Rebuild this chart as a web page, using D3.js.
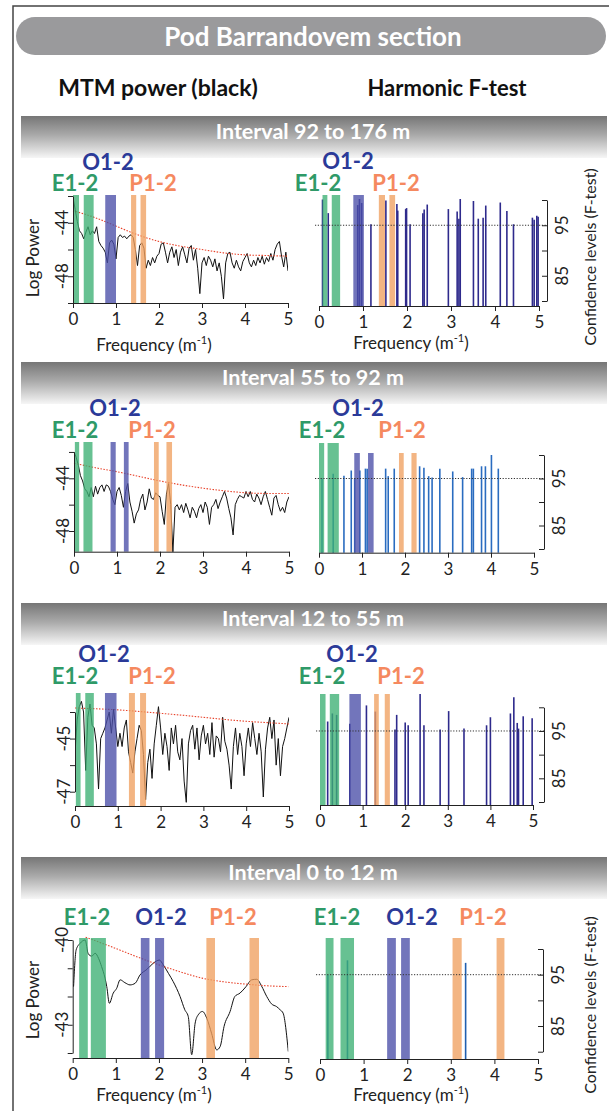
<!DOCTYPE html>
<html>
<head>
<meta charset="utf-8">
<script src="https://cdn.jsdelivr.net/npm/d3@7"></script>
<style>
  body { margin: 0; background: #fff; }
  svg { display: block; font-family: Lato, "Open Sans", sans-serif; }
  .axis path, .axis line { stroke: #222; stroke-width: 1; }
  .axis text { font-size: 17px; fill: #222; font-family: Lato, sans-serif; }
</style>
</head>
<body>
<div id="chart"></div>
<script>
// ---- data ----
const FREQ_STEP = 0.05; // MTM spectra sampled every 0.05 cycles/m (0..5)

const intervalTitles = ["Interval 92 to 176 m", "Interval 55 to 92 m", "Interval 12 to 55 m", "Interval 0 to 12 m"];

// MTM log power, interval 92-176 m
const mtm92 = [
  -42.1,-43.0,-43.9,-44.6,-44.8,-45.2,-44.7,-44.3,-44.9,-44.6,
  -44.8,-44.3,-45.4,-45.7,-45.9,-46.2,-47.0,-45.5,-45.3,-45.6,
  -46.7,-45.1,-44.9,-45.1,-45.0,-45.2,-45.0,-44.9,-45.1,-46.0,
  -47.2,-45.7,-45.5,-45.9,-47.4,-46.8,-47.2,-46.6,-47.0,-46.5,
  -46.3,-45.6,-45.5,-46.2,-47.0,-46.2,-45.8,-46.6,-46.0,-47.2,
  -46.2,-45.8,-46.4,-47.0,-45.9,-45.7,-46.8,-46.0,-47.4,-49.3,
  -47.0,-46.6,-47.2,-46.5,-46.8,-47.3,-46.7,-47.6,-47.0,-48.0,
  -49.7,-47.0,-46.3,-46.2,-47.0,-47.4,-46.8,-47.3,-47.6,-46.9,
  -46.6,-46.3,-47.0,-47.3,-46.8,-47.2,-46.6,-47.0,-46.5,-47.1,
  -46.6,-46.9,-46.3,-46.8,-46.0,-45.6,-45.4,-46.5,-47.3,-46.2,
  -47.6
];
// MTM log power, interval 55-92 m
const mtm55 = [
  -42.0,-42.4,-43.0,-43.8,-44.2,-44.8,-45.0,-45.4,-44.7,-45.4,
  -44.6,-45.2,-44.7,-44.5,-45.0,-44.5,-44.6,-45.0,-45.6,-46.0,
  -45.0,-44.7,-45.3,-46.2,-45.0,-44.4,-45.8,-46.5,-47.4,-46.7,
  -46.4,-45.6,-45.2,-46.4,-45.8,-44.8,-45.5,-45.6,-45.1,-45.3,
  -45.4,-46.5,-47.5,-45.2,-44.4,-46.0,-49.6,-46.2,-46.0,-46.4,
  -46.0,-46.6,-45.9,-46.4,-47.0,-46.2,-46.5,-47.0,-46.3,-46.0,
  -46.6,-45.8,-46.2,-47.5,-46.2,-46.0,-45.6,-46.3,-45.8,-45.4,
  -45.0,-45.5,-46.3,-47.0,-48.3,-46.0,-45.6,-45.3,-45.4,-45.5,
  -45.0,-45.4,-45.0,-45.6,-45.8,-45.2,-45.5,-46.0,-45.4,-45.0,
  -45.6,-46.2,-46.8,-45.5,-45.3,-46.0,-46.5,-46.2,-46.6,-45.8,
  -45.4
];
// MTM log power, interval 12-55 m
const mtm12 = [
  -45.6,-44.3,-43.8,-43.6,-44.0,-46.2,-44.2,-43.7,-44.5,-44.6,
  -45.2,-46.9,-45.0,-44.8,-44.6,-44.3,-44.0,-44.8,-43.9,-44.6,
  -45.3,-44.8,-45.3,-44.6,-44.3,-45.5,-45.9,-46.3,-45.5,-45.0,
  -44.5,-44.7,-45.6,-47.3,-45.9,-45.4,-46.5,-45.2,-44.5,-43.8,
  -44.6,-45.6,-44.8,-45.3,-46.2,-44.6,-45.2,-44.5,-45.5,-45.8,
  -45.0,-46.6,-47.4,-45.2,-44.7,-44.5,-45.4,-44.6,-45.8,-44.9,
  -44.5,-45.2,-44.8,-45.6,-44.4,-45.7,-44.9,-45.0,-45.5,-44.2,
  -45.1,-45.4,-46.0,-46.9,-45.3,-44.6,-45.6,-44.8,-45.3,-46.4,
  -45.2,-44.6,-45.3,-44.4,-45.0,-45.6,-44.8,-45.5,-47.2,-45.4,
  -44.6,-44.2,-45.0,-44.3,-46.0,-45.0,-46.4,-45.3,-45.0,-44.6,
  -44.2
];
// MTM log power, interval 0-12 m (smooth, irregular sampling)
const mtm0Freq = [0.02,0.08,0.17,0.29,0.36,0.44,0.52,0.60,0.67,0.75,0.79,0.85,0.94,1.02,1.10,1.21,1.33,1.45,1.56,1.72,
  1.87,2.01,2.10,2.22,2.33,2.49,2.60,2.68,2.76,2.84,2.91,3.01,3.11,3.22,3.34,3.42,3.51,3.65,3.76,3.88,
  4.02,4.15,4.27,4.38,4.50,4.61,4.73,4.81,4.88,5.00];
const mtm0 = [-41.65,-40.35,-40.12,-40.0,-40.49,-40.57,-40.47,-40.65,-40.94,-41.35,-41.65,-42.24,-41.88,-41.71,-41.41,-41.51,-41.59,-41.53,-41.24,-41.04,
  -40.82,-40.71,-40.88,-41.18,-41.47,-42.0,-42.47,-42.71,-44.06,-42.94,-42.65,-42.53,-42.77,-43.3,-43.89,-43.77,-43.06,-42.53,-42.0,-41.88,
  -41.65,-41.41,-41.39,-41.63,-42.0,-42.26,-42.36,-42.47,-42.59,-43.95];

// red-noise confidence curves (dotted red)
const redFreq = [0, 0.5, 1, 1.5, 2, 2.5, 3, 3.5, 4, 4.5, 5];
const red92 = [-43.1,-43.6,-44.25,-44.9,-45.4,-45.75,-46.0,-46.25,-46.4,-46.45,-46.5];
const red55 = [-42.85,-43.2,-43.5,-43.85,-44.2,-44.5,-44.75,-44.95,-45.1,-45.15,-45.15];
const red12 = [-43.85,-43.88,-43.92,-43.98,-44.05,-44.12,-44.2,-44.28,-44.35,-44.4,-44.45];
const red0Freq = [0.3, 1, 1.5, 2, 2.5, 3, 3.5, 4, 4.5, 5];
const red0 = [-39.9,-40.3,-40.6,-40.88,-41.13,-41.35,-41.48,-41.56,-41.62,-41.65];

// harmonic F-test peaks: frequency and confidence level (%)
const ft92Freq = [0.08,0.21,0.88,0.92,0.97,1.18,1.52,1.77,1.79,1.97,1.99,2.07,2.36,2.39,2.46,2.94,3.14,3.18,3.21,3.51,3.62,3.73,3.79,4.12,4.27,4.42,4.85,4.89,4.95,4.98];
const ft92Conf = [100.1,97.4,99.0,100.2,99.4,95.2,99.9,99.2,97.9,98.2,98.4,95.2,97.4,98.1,99.1,98.2,97.7,96.3,100.2,99.8,96.3,96.5,98.9,99.5,97.8,95.2,96.5,96.1,96.9,96.7];
const ft55Freq = [0.07,0.33,0.58,0.75,0.83,0.95,1.08,1.12,1.55,1.61,1.75,2.34,2.44,2.55,2.63,2.81,3.11,3.34,3.55,3.59,3.78,3.87,4.01,4.17];
const ft55Conf = [95.0,96.0,95.6,96.7,95.0,96.7,97.1,97.1,97.1,95.5,97.1,97.6,97.3,95.5,95.2,97.1,96.5,95.3,97.1,97.1,97.6,97.6,100.0,97.1];
const ft12Freq = [0.18,0.29,0.39,0.70,1.09,1.30,1.76,1.80,2.00,2.07,2.35,2.44,2.82,3.02,3.38,3.91,4.00,4.47,4.55,4.63,4.66,4.77,4.98];
const ft12Conf = [97.0,98.7,98.4,96.5,100.4,99.1,95.3,98.4,96.8,96.2,102.8,96.2,95.3,99.2,95.5,96.2,97.9,98.7,102.1,96.7,95.5,98.1,97.7];
const ft0Freq = [0.18, 0.63, 3.34];
const ft0Conf = [95.0, 97.8, 97.3];

// astronomical bands [start, end, group]: E1-2 eccentricity, O1-2 obliquity, P1-2 precession
const bands92L = [[0,0.14,"E"],[0.25,0.48,"E"],[0.75,1.0,"O"],[1.35,1.47,"P"],[1.57,1.7,"P"]];
const bands92R = [[0.08,0.19,"E"],[0.29,0.48,"E"],[0.78,1.02,"O"],[1.36,1.5,"P"],[1.6,1.73,"P"]];
const bands55L = [[0.02,0.12,"E"],[0.22,0.43,"E"],[0.85,0.97,"O"],[1.16,1.27,"O"],[1.86,1.97,"P"],[2.15,2.28,"P"]];
const bands55R = [[0,0.12,"E"],[0.2,0.46,"E"],[0.82,0.95,"O"],[1.14,1.27,"O"],[1.86,1.97,"P"],[2.15,2.27,"P"]];
const bands12L = [[0.02,0.13,"E"],[0.24,0.44,"E"],[0.7,0.97,"O"],[1.26,1.4,"P"],[1.52,1.66,"P"]];
const bands12R = [[0,0.13,"E"],[0.23,0.45,"E"],[0.69,0.96,"O"],[1.27,1.38,"P"],[1.52,1.64,"P"]];
const bands0L = [[0.15,0.35,"E"],[0.42,0.77,"E"],[1.58,1.78,"O"],[1.91,2.12,"O"],[3.1,3.3,"P"],[4.1,4.32,"P"]];
const bands0R = [[0.13,0.31,"E"],[0.47,0.78,"E"],[1.54,1.74,"O"],[1.86,2.06,"O"],[3.04,3.25,"P"],[4.05,4.23,"P"]];

const bandNames = { E: "E1-2", O: "O1-2", P: "P1-2" };
const bandFill = { E: "#3cb073", O: "#4a4ea8", P: "#f0a060" };
const bandText = { E: "#2f9a68", O: "#2b3a98", P: "#f5895f" };
const freqTicks = [0, 1, 2, 3, 4, 5];

// ---- layout of the four intervals ----
const panels = [
  { title: intervalTitles[0], hdrY: 116, mtm: mtm92, red: red92, redF: redFreq,
    ftF: ft92Freq, ftC: ft92Conf, ftColor: "#2e2a8c", bandsL: bands92L, bandsR: bands92R,
    L: { x: [73, 288], yDom: [-50, -42], yRng: [303, 196], axisDom: [-50, -42], ticks: [-42, -44, -46, -48, -50], labels: [-44, -48], xAxisY: 303, bandTop: 195,
         names: [["O", 108, 162], ["E", 75, 183], ["P", 153, 183]], freqLabel: 345, logLabel: 258 },
    R: { x: [319, 539], yRng: [301, 200], base: 306, axisX: 547, topE: 195, topOP: 195,
         names: [["O", 348, 161], ["E", 318, 183], ["P", 396, 183]], freqLabel: 343, confLabel: 257 } },
  { title: intervalTitles[1], hdrY: 362, mtm: mtm55, red: red55, redF: redFreq,
    ftF: ft55Freq, ftC: ft55Conf, ftColor: "#2a6cc0", bandsL: bands55L, bandsR: bands55R,
    L: { x: [74, 289], yDom: [-48, -44], yRng: [531, 478.3], axisDom: [-49.6, -42], ticks: [-42, -44, -46, -48], labels: [-44, -48], xAxisY: 551.7, bandTop: 442,
         names: [["O", 115, 408], ["E", 75, 430], ["P", 152, 430]] },
    R: { x: [319, 534], yRng: [549, 455], base: 552.7, axisX: 544, topE: 443, topOP: 453,
         names: [["O", 358, 408], ["E", 322, 430], ["P", 402, 430]] } },
  { title: intervalTitles[2], hdrY: 603, mtm: mtm12, red: red12, redF: redFreq,
    ftF: ft12Freq, ftC: ft12Conf, ftColor: "#2e2a8c", bandsL: bands12L, bandsR: bands12R,
    L: { x: [75, 289], yDom: [-47, -44], yRng: [791.7, 712], axisDom: [-47, -44], ticks: [-44, -45, -46, -47], labels: [-45, -47], xAxisY: 806, bandTop: 693,
         names: [["O", 104, 654], ["E", 75, 676], ["P", 152, 676]] },
    R: { x: [320, 533], yRng: [802, 707.3], base: 805, axisX: 544, topE: 694, topOP: 694,
         names: [["O", 352, 654], ["E", 322, 676], ["P", 401, 676]] } },
  { title: intervalTitles[3], hdrY: 857, mtm: mtm0, mtmF: mtm0Freq, red: red0, redF: red0Freq,
    ftF: ft0Freq, ftC: ft0Conf, ftColor: "#1f5fb0", bandsL: bands0L, bandsR: bands0R,
    L: { x: [72.7, 288.3], yDom: [-44, -40], yRng: [1053, 940], axisDom: [-44, -40], ticks: [-40, -41, -42, -43, -44], labels: [-40, -43], xAxisY: 1058, bandTop: 938,
         names: [["E", 87, 917], ["O", 161, 917], ["P", 233, 917]], freqLabel: 1095, logLabel: 1000 },
    R: { x: [320, 538], yRng: [1051.7, 949], base: 1059, axisX: 543, topE: 938, topOP: 938,
         names: [["E", 337, 917], ["O", 412, 917], ["P", 483, 917]], freqLabel: 1095, confLabel: 1005 } }
];

const W = 609, H = 1111;
const svg = d3.select("#chart").append("svg").attr("width", W).attr("height", H);

const defs = svg.append("defs");
const grad = defs.append("linearGradient").attr("id", "hdrGrad").attr("x1", 0).attr("y1", 0).attr("x2", 0).attr("y2", 1);
grad.append("stop").attr("offset", "0%").attr("stop-color", "#767676");
grad.append("stop").attr("offset", "45%").attr("stop-color", "#a9a9a9");
grad.append("stop").attr("offset", "100%").attr("stop-color", "#f6f6f6");

// outer frame (left and top edges)
svg.append("path").attr("d", `M13,${H} V6 H${W}`).attr("fill", "none").attr("stroke", "#444").attr("stroke-width", 1.5);

// title pill
svg.append("rect").attr("x", 16).attr("y", 17).attr("width", 590).attr("height", 38).attr("rx", 19).attr("fill", "#9a9a9c");
svg.append("text").attr("x", 313).attr("y", 37).attr("dy", "0.35em").attr("text-anchor", "middle")
  .attr("fill", "#fff").attr("font-weight", 700).attr("font-size", 26).text("Pod Barrandovem section");

svg.append("text").attr("x", 158).attr("y", 88).attr("dy", "0.35em").attr("text-anchor", "middle")
  .attr("fill", "#111").attr("font-weight", 700).attr("font-size", 23).text("MTM power (black)");
svg.append("text").attr("x", 447).attr("y", 88).attr("dy", "0.35em").attr("text-anchor", "middle")
  .attr("fill", "#111").attr("font-weight", 700).attr("font-size", 22).text("Harmonic F-test");

function freqLabel(g, x, y) {
  const t = g.append("text").attr("x", x).attr("y", y + 6).attr("text-anchor", "middle")
    .attr("font-size", 17).attr("fill", "#222");
  t.append("tspan").text("Frequency (m");
  t.append("tspan").attr("font-size", 11).attr("dy", -7).text("-1");
  t.append("tspan").attr("dy", 7).text(")");
}

function bandLabels(g, names) {
  names.forEach(([k, x, y]) => {
    g.append("text").attr("x", x).attr("y", y).attr("dy", "0.35em").attr("text-anchor", "middle")
      .attr("font-weight", 700).attr("font-size", 22).attr("fill", bandText[k]).text(bandNames[k]);
  });
}

function drawLeft(p, idx) {
  const L = p.L;
  const x = d3.scaleLinear().domain([0, 5]).range(L.x);
  const y = d3.scaleLinear().domain(L.yDom).range(L.yRng);
  const g = svg.append("g");

  const clipId = "clipL" + idx;
  defs.append("clipPath").attr("id", clipId).append("rect")
    .attr("x", L.x[0]).attr("y", L.bandTop - 8).attr("width", L.x[1] - L.x[0]).attr("height", L.xAxisY - L.bandTop + 8);

  const pts = p.mtm.map((v, i) => [p.mtmF ? p.mtmF[i] : i * FREQ_STEP, v]);
  const line = d3.line().x(d => x(d[0])).y(d => y(d[1]));
  if (p.mtmF) line.curve(d3.curveMonotoneX);
  g.append("path").datum(pts).attr("clip-path", `url(#${clipId})`).attr("d", line)
    .attr("fill", "none").attr("stroke", "#111").attr("stroke-width", 1).attr("stroke-linejoin", "round");

  const redPts = p.red.map((v, i) => [p.redF[i], v]);
  g.append("path").datum(redPts)
    .attr("d", d3.line().curve(d3.curveMonotoneX).x(d => x(d[0])).y(d => y(d[1])))
    .attr("fill", "none").attr("stroke", "#e8432b").attr("stroke-width", 1.1).attr("stroke-dasharray", "1.5,1.5");

  g.selectAll("rect.band").data(p.bandsL).join("rect").attr("class", "band")
    .attr("x", d => x(d[0])).attr("width", d => x(d[1]) - x(d[0]))
    .attr("y", L.bandTop).attr("height", L.xAxisY - L.bandTop)
    .attr("fill", d => bandFill[d[2]]).attr("opacity", 0.78);

  g.append("g").attr("class", "axis").attr("transform", `translate(0,${L.xAxisY})`)
    .call(d3.axisBottom(x).tickValues(freqTicks).tickFormat(d3.format("d")).tickSize(5).tickPadding(5).tickSizeOuter(0));

  const ya = d3.scaleLinear().domain(L.axisDom).range(L.axisDom.map(y));
  g.append("g").attr("class", "axis").attr("transform", `translate(${L.x[0]},0)`)
    .call(d3.axisLeft(ya).tickValues(L.ticks).tickFormat("").tickSize(5).tickSizeOuter(0));
  g.selectAll("text.ylab").data(L.labels).join("text").attr("class", "ylab")
    .attr("transform", d => `translate(${L.x[0] - 11},${y(d)}) rotate(-90)`)
    .attr("dy", "0.35em").attr("text-anchor", "middle").attr("font-size", 17).attr("fill", "#222")
    .text(d => String(d));

  bandLabels(g, L.names);
  if (L.freqLabel) freqLabel(g, 154, L.freqLabel);
  if (L.logLabel) {
    g.append("text").attr("transform", `translate(33,${L.logLabel}) rotate(-90)`)
      .attr("dy", "0.35em").attr("text-anchor", "middle").attr("font-size", 17).attr("fill", "#222").text("Log Power");
  }
}

function drawRight(p) {
  const R = p.R;
  const x = d3.scaleLinear().domain([0, 5]).range(R.x);
  const y = d3.scaleLinear().domain([80, 100]).range(R.yRng);
  const g = svg.append("g");

  g.selectAll("line.ft").data(d3.zip(p.ftF, p.ftC)).join("line").attr("class", "ft")
    .attr("x1", d => x(d[0])).attr("x2", d => x(d[0]))
    .attr("y1", R.base).attr("y2", d => y(d[1]))
    .attr("stroke", p.ftColor).attr("stroke-width", 1.6);

  g.selectAll("rect.band").data(p.bandsR).join("rect").attr("class", "band")
    .attr("x", d => x(d[0])).attr("width", d => x(d[1]) - x(d[0]))
    .attr("y", d => d[2] === "E" ? R.topE : R.topOP)
    .attr("height", d => R.base - (d[2] === "E" ? R.topE : R.topOP))
    .attr("fill", d => bandFill[d[2]]).attr("opacity", 0.78);

  g.append("line").attr("x1", R.x[0] - 4).attr("x2", R.axisX).attr("y1", y(95)).attr("y2", y(95))
    .attr("stroke", "#333").attr("stroke-width", 1).attr("stroke-dasharray", "1.2,1.6");

  g.append("g").attr("class", "axis").attr("transform", `translate(0,${R.base})`)
    .call(d3.axisBottom(x).tickValues(freqTicks).tickFormat(d3.format("d")).tickSize(5).tickPadding(5).tickSizeOuter(0));

  g.append("g").attr("class", "axis").attr("transform", `translate(${R.axisX},0)`)
    .call(d3.axisRight(y).tickValues([80, 85, 90, 95, 100]).tickFormat("").tickSizeInner(-5).tickSizeOuter(0));
  g.selectAll("text.ylab").data([95, 85]).join("text").attr("class", "ylab")
    .attr("transform", d => `translate(${R.axisX + 15},${y(d)}) rotate(-90)`)
    .attr("dy", "0.35em").attr("text-anchor", "middle").attr("font-size", 17).attr("fill", "#222")
    .text(d => String(d));

  bandLabels(g, R.names);
  if (R.freqLabel) freqLabel(g, 411, R.freqLabel);
  if (R.confLabel) {
    g.append("text").attr("transform", `translate(590,${R.confLabel}) rotate(-90)`)
      .attr("dy", "0.35em").attr("text-anchor", "middle").attr("font-size", 16).attr("fill", "#222")
      .text("Confidence levels (F-test)");
  }
}

panels.forEach((p, i) => {
  svg.append("rect").attr("x", 21).attr("y", p.hdrY).attr("width", 586).attr("height", 42).attr("fill", "url(#hdrGrad)");
  svg.append("text").attr("x", 313).attr("y", p.hdrY + 15).attr("dy", "0.35em").attr("text-anchor", "middle")
    .attr("fill", "#fff").attr("font-weight", 700).attr("font-size", 21.5).text(p.title);
  drawLeft(p, i);
  drawRight(p);
});
</script>
</body>
</html>
